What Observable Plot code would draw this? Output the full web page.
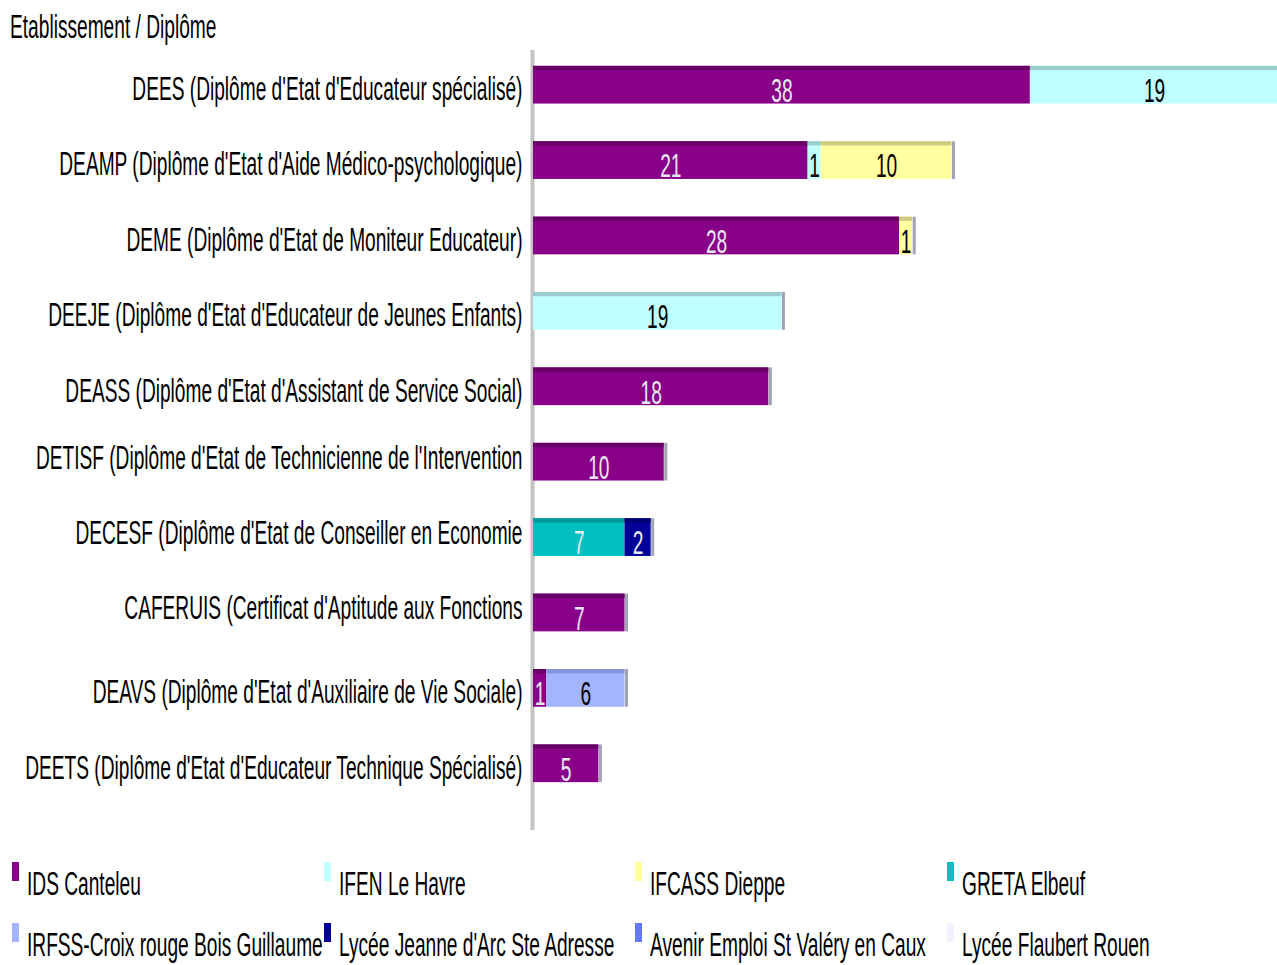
<!DOCTYPE html>
<html>
<head>
<meta charset="utf-8">
<script src="https://cdn.jsdelivr.net/npm/d3@7"></script>
<script src="https://cdn.jsdelivr.net/npm/@observablehq/plot@0.6"></script>
<style>
  html, body { margin: 0; padding: 0; background: #fff; }
  body { position: relative; width: 1277px; height: 965px; overflow: hidden; font-family: "Liberation Sans", Arial, sans-serif; }
  #chart { position: absolute; left: 0; top: 0; }
  .cond { display: inline-block; transform: scaleX(0.563); transform-origin: 0 0; white-space: nowrap; font-size: 34px; line-height: 34px; color: #000; }
  #title { position: absolute; left: 10px; top: 9px; }
  .leg { position: absolute; height: 34px; }
  .leg .sw { position: absolute; left: 0; top: -4px; width: 7px; height: 19px; }
  .leg .cond { position: absolute; left: 15px; top: 0; }
</style>
</head>
<body>
<div id="title" class="cond">Etablissement / Diplôme</div>
<div id="chart"></div>
<div id="legend"></div>
<script>
// Categories (displayed label text; some are cut to their first line in the reference)
const categories = [
  "DEES (Diplôme d'Etat d'Educateur spécialisé)",
  "DEAMP (Diplôme d'Etat d'Aide Médico-psychologique)",
  "DEME (Diplôme d'Etat de Moniteur Educateur)",
  "DEEJE (Diplôme d'Etat d'Educateur de Jeunes Enfants)",
  "DEASS (Diplôme d'Etat d'Assistant de Service Social)",
  "DETISF (Diplôme d'Etat de Technicienne de l'Intervention",
  "DECESF (Diplôme d'Etat de Conseiller en Economie",
  "CAFERUIS (Certificat d'Aptitude aux Fonctions",
  "DEAVS (Diplôme d'Etat d'Auxiliaire de Vie Sociale)",
  "DEETS (Diplôme d'Etat d'Educateur Technique Spécialisé)"
];
const wrappedLabels = [
  "DETISF (Diplôme d'Etat de Technicienne de l'Intervention",
  "DECESF (Diplôme d'Etat de Conseiller en Economie",
  "CAFERUIS (Certificat d'Aptitude aux Fonctions"
];

const series = [
  "IDS Canteleu",
  "IFEN Le Havre",
  "IFCASS Dieppe",
  "GRETA Elbeuf",
  "IRFSS-Croix rouge Bois Guillaume",
  "Lycée Jeanne d'Arc Ste Adresse",
  "Avenir Emploi St Valéry en Caux",
  "Lycée Flaubert Rouen"
];

// values per series, in category order
const idsCanteleu      = [38, 21, 28, 0, 18, 10, 0, 7, 1, 5];
const ifenLeHavre      = [19, 1, 0, 19, 0, 0, 0, 0, 0, 0];
const ifcassDieppe     = [0, 10, 1, 0, 0, 0, 0, 0, 0, 0];
const gretaElbeuf      = [0, 0, 0, 0, 0, 0, 7, 0, 0, 0];
const irfssCroixRouge  = [0, 0, 0, 0, 0, 0, 0, 0, 6, 0];
const lyceeJeanneDArc  = [0, 0, 0, 0, 0, 0, 2, 0, 0, 0];
const avenirEmploi     = [0, 0, 0, 0, 0, 0, 0, 0, 0, 0];
const lyceeFlaubert    = [0, 0, 0, 0, 0, 0, 0, 0, 0, 0];
const seriesValues = [idsCanteleu, ifenLeHavre, ifcassDieppe, gretaElbeuf,
  irfssCroixRouge, lyceeJeanneDArc, avenirEmploi, lyceeFlaubert];

const colors    = ["#880088", "#c0ffff", "#ffffa0", "#00c0c0", "#a4b4ff", "#000099", "#6677ff", "#f2f2ff"];
const topColors = ["#660066", "#99cccc", "#cccc80", "#009999", "#8494d4", "#000070", "#4c5ccc", "#ccccdd"];
const darkSeries = ["IDS Canteleu", "GRETA Elbeuf", "Lycée Jeanne d'Arc Ste Adresse"];

// build stacked rows
const rows = [];
const totals = [];
categories.forEach((cat, i) => {
  let cum = 0;
  series.forEach((s, j) => {
    const v = seriesValues[j][i];
    if (v > 0) {
      rows.push({cat, series: s, value: v, x1: cum, x2: cum + v});
      cum += v;
    }
  });
  totals.push({cat, total: cum});
});

const FONT = "'Liberation Sans', Arial, sans-serif";
const SX = 0.563;

const plot = Plot.plot({
  width: 1277,
  height: 850,
  marginLeft: 533,
  marginRight: 0,
  marginTop: 47,
  marginBottom: 49,
  style: {fontFamily: FONT, fontSize: "34px", background: "transparent"},
  x: {domain: [0, 56.9], axis: null},
  y: {domain: categories, axis: null, paddingInner: 0.5, paddingOuter: 0.25, align: 0.5, round: false},
  color: {domain: series, range: colors},
  marks: [
    Plot.ruleX([0], {stroke: "#c4c4c4", strokeWidth: 4, dx: -1, insetTop: 3, insetBottom: -29}),
    Plot.barX(rows, {x1: "x1", x2: "x2", y: "cat", fill: "series"}),
    ...series.map((s, j) => Plot.barX(rows.filter(r => r.series === s),
      {x1: "x1", x2: "x2", y: "cat", fill: topColors[j], insetBottom: 33.5})),
    Plot.tickX(totals, {x: "total", y: "cat", stroke: "#a0a3b4", strokeWidth: 3, dx: 1.5}),
    Plot.text(rows.filter(r => darkSeries.includes(r.series)),
      {x: d => (d.x1 + d.x2) / 2, y: "cat", text: d => String(d.value), fill: "#e8e8f0", dy: 6}),
    Plot.text(rows.filter(r => !darkSeries.includes(r.series)),
      {x: d => (d.x1 + d.x2) / 2, y: "cat", text: d => String(d.value), fill: "#000", dy: 6}),
    Plot.text(categories.filter(c => !wrappedLabels.includes(c)),
      {x: 0, y: d => d, text: d => d, textAnchor: "end", dx: -11, dy: 4, fill: "#000"}),
    Plot.text(wrappedLabels,
      {x: 0, y: d => d, text: d => d, textAnchor: "end", dx: -11, dy: -4.5, fill: "#000"})
  ]
});

// condense all text horizontally (reference uses a very narrow face)
plot.querySelectorAll("text").forEach(t => {
  const tr = t.getAttribute("transform") || "";
  t.setAttribute("transform", (tr + ` scale(${SX},1)`).trim());
});
document.getElementById("chart").appendChild(plot);

// legend: 2 rows x 4 columns
const legend = document.getElementById("legend");
series.forEach((s, j) => {
  const col = j % 4, row = Math.floor(j / 4);
  const item = document.createElement("div");
  item.className = "leg";
  item.style.left = (12 + col * 311.7) + "px";
  item.style.top = (866 + row * 61) + "px";
  const sw = document.createElement("div");
  sw.className = "sw";
  sw.style.background = colors[j];
  const label = document.createElement("span");
  label.className = "cond";
  label.textContent = s;
  item.appendChild(sw);
  item.appendChild(label);
  legend.appendChild(item);
});
</script>
</body>
</html>
